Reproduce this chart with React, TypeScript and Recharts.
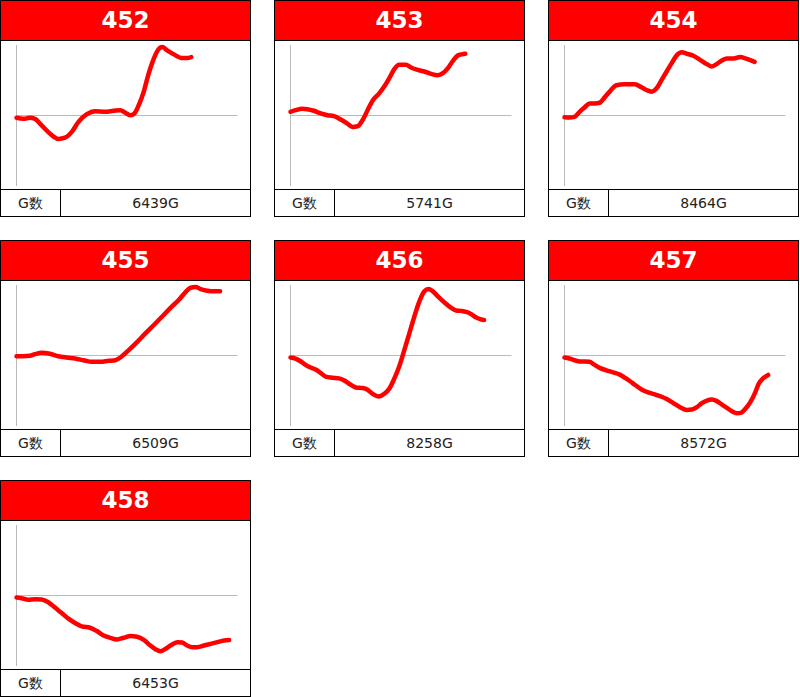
import React from 'react';
import { LineChart, Line, XAxis, YAxis, ReferenceLine } from 'recharts';

const machineNumbers = ['452', '453', '454', '455', '456', '457', '458'];
const gameCounts = ['6439G', '5741G', '8464G', '6509G', '8258G', '8572G', '6453G'];

const x452 = [0, 6.7, 13.3, 18.3, 25, 33.3, 41.7, 48.3, 55, 61.7, 70, 78.3, 88.3, 96.7, 103.3, 108.3, 113.3, 117.3, 121.7, 126.7, 130.7, 135, 140, 145, 150, 156.7, 165, 170, 174];
const y452 = [-2.3, -3.3, -2.3, -3.3, -9.7, -18, -23.3, -22, -16.3, -6.3, 1.3, 4.3, 3.7, 4.7, 5.3, 2.7, 0.3, 2, 10.3, 23.7, 38.7, 52, 63.7, 68, 64.7, 60.7, 57, 57, 58];

const x453 = [0, 5, 11.7, 16.7, 23.3, 30, 36.7, 43.3, 50, 56.7, 61.7, 66.7, 71.7, 76.7, 81.7, 88.3, 93.3, 98.3, 103.3, 108.3, 115, 120, 126.7, 133.3, 140, 146.7, 151.7, 156.7, 161.7, 166.7, 170.7, 174];
const y453 = [3.7, 5.3, 6.7, 6.3, 4.7, 2, 0.3, -0.7, -4, -8, -11.3, -10.7, -4.7, 5.3, 14.7, 22, 28.7, 37, 46, 50.3, 50.3, 47.7, 45.3, 43.7, 41.3, 40, 42, 47, 54.3, 59.7, 60.7, 61.3];

const x454 = [0, 5, 10, 15, 20, 25, 30, 35, 40, 45, 51.7, 60, 70, 76.7, 81.7, 86.7, 91.7, 96.7, 101.7, 106.7, 111.7, 116.7, 121.7, 128.3, 135, 141.7, 146.7, 151.7, 156.7, 161.7, 168.3, 175, 180, 185, 189.3];
const y454 = [-1.7, -2, -1.3, 3.7, 8, 12, 12, 12.7, 18, 23.7, 30, 31, 31, 28, 25.3, 23.7, 27, 35.3, 43.7, 52, 59.7, 62.7, 61.3, 59.3, 55.3, 51, 48.7, 51.3, 54.7, 56.7, 56.7, 58, 56.7, 55, 53.3];

const x455 = [0, 6.7, 13.3, 18.3, 25, 33.3, 41.7, 50, 58.3, 66.7, 75, 83.3, 91.7, 98.3, 105, 111.7, 120, 128.3, 136.7, 145, 153.3, 161.7, 168.3, 173.3, 178.3, 183.3, 190, 196.7, 202.7];
const y455 = [-0.7, -0.7, -0.3, 1.3, 2.7, 1.7, -0.7, -2, -3, -4.7, -6.3, -6.3, -5.3, -4.7, -0.7, 5.3, 13.3, 22, 30.3, 38.7, 47.3, 55.3, 63, 67.3, 68, 66, 64.3, 63.7, 63.7];

const x456 = [0, 5, 10, 15, 20, 25, 30, 35, 41.7, 48.3, 53.3, 60, 65, 71.7, 76.7, 81.7, 87.7, 93.3, 98.3, 103.3, 108.3, 113.3, 118.3, 123.3, 128.3, 133.3, 137.3, 141.7, 146.7, 153.3, 160, 165, 170, 175, 180, 185, 190, 192.7];
const y456 = [-2, -3, -5.7, -9.3, -12, -14, -17.3, -21, -22, -22.7, -24.7, -29, -31.7, -32.3, -34, -38, -40.7, -38, -33, -23, -10.7, 5.3, 22, 38.7, 53.7, 63.7, 66, 63.7, 58.7, 52.7, 47.3, 44.7, 44.3, 43.3, 41, 37.7, 35.7, 35.3];

const x457 = [0, 5, 10, 15, 20, 25, 30, 35, 41.7, 48.3, 55, 60, 65, 70, 76.7, 83.3, 90, 96.7, 101.7, 108.3, 115, 121.7, 126.7, 131.7, 136.7, 141.7, 146.7, 151.7, 156.7, 161.7, 166.7, 171.7, 176, 180, 185, 190, 193.3, 197.3, 202.7];
const y457 = [-2, -3, -4.7, -6, -6, -6.3, -9.3, -12.3, -14.7, -16.7, -19, -22, -25.3, -29, -33.7, -36.7, -38.7, -41, -43.3, -47.3, -51.3, -54, -53.7, -51.3, -47.3, -44.7, -43.7, -45.3, -48.7, -52, -55.3, -57.3, -56.7, -53, -46.3, -36.3, -28, -23, -19.3];

const x458 = [0, 5, 11.7, 18.3, 25, 31.7, 38.3, 45, 51.7, 58.3, 65, 73.3, 80, 86.7, 93.3, 100, 106.7, 113.3, 120, 126.7, 133.3, 138.3, 143.3, 148.3, 153.3, 160, 165, 170, 175, 180, 186.7, 193.3, 200, 206.7, 211.7];
const y458 = [-2, -2.7, -4.3, -3.7, -4, -6.7, -12, -17.3, -23, -27.3, -30.7, -32, -35.3, -39.7, -42, -43.7, -42, -40.3, -41, -44, -49.7, -53.3, -55.3, -53, -49.7, -46.3, -46.7, -49.7, -51.3, -51.3, -49.7, -48, -46.3, -44.7, -44.3];

const seriesX = [x452, x453, x454, x455, x456, x457, x458];
const seriesY = [y452, y453, y454, y455, y456, y457, y458];

const FONT = '"DejaVu Sans", Verdana, sans-serif';

function Card({ idx }: { idx: number }) {
  const col = idx % 3;
  const row = Math.floor(idx / 3);
  const data = seriesX[idx].map((x, i) => ({ x, y: seriesY[idx][i] }));
  return (
    <div
      style={{
        position: 'absolute',
        left: col * 274,
        top: row * 240,
        width: 251,
        height: 217,
        boxSizing: 'border-box',
        border: '1px solid #000',
        background: '#fff',
        fontFamily: FONT,
      }}
    >
      <div
        style={{
          height: 39,
          borderBottom: '1px solid #000',
          background: '#ff0000',
          color: '#fff',
          fontWeight: 'bold',
          fontSize: 23,
          lineHeight: '39px',
          textAlign: 'center',
        }}
      >
        {machineNumbers[idx]}
      </div>
      <div style={{ height: 148 }}>
        <LineChart width={249} height={148} data={data} margin={{ top: 4, right: 12.5, bottom: 3, left: 15.5 }}>
          <XAxis dataKey="x" type="number" domain={[0, 220]} hide />
          <YAxis type="number" domain={[-70, 70]} hide />
          <ReferenceLine y={0} stroke="#bbbbbb" strokeWidth={1} />
          <ReferenceLine x={0} stroke="#bbbbbb" strokeWidth={1} />
          <Line
            type="monotone"
            dataKey="y"
            stroke="#ff0000"
            strokeWidth={4.5}
            strokeLinecap="round"
            strokeLinejoin="round"
            dot={false}
            isAnimationActive={false}
          />
        </LineChart>
      </div>
      <div
        style={{
          height: 26,
          borderTop: '1px solid #000',
          display: 'flex',
          fontSize: 14,
          color: '#222',
          lineHeight: '26px',
        }}
      >
        <div style={{ width: 59, borderRight: '1px solid #000', textAlign: 'center' }}>G数</div>
        <div style={{ flex: 1, textAlign: 'center' }}>{gameCounts[idx]}</div>
      </div>
    </div>
  );
}

export default function App() {
  return (
    <div style={{ position: 'absolute', left: 0, top: 0, width: 800, height: 697, background: '#fff' }}>
      {machineNumbers.map((_, i) => (
        <Card key={i} idx={i} />
      ))}
    </div>
  );
}
